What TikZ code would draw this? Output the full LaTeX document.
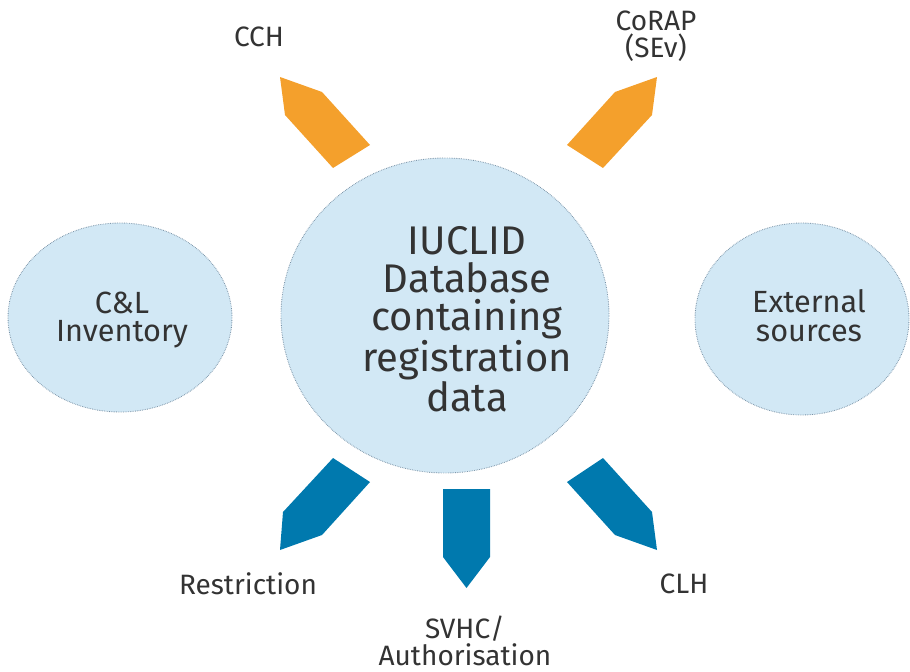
\documentclass[tikz,border=0pt]{standalone}
\usepackage{fontspec}
\setmainfont{Fira Sans}
\usetikzlibrary{shapes.geometric}

\tikzset{every picture/.style={line width=0.75pt}}
\tikzset{
  bubble/.style={ellipse, draw={rgb, 255:red, 120; green, 145; blue, 165 }, line width=0.65pt, dash pattern=on 0.5pt off 0.8pt, fill={rgb, 255:red, 210; green, 232; blue, 245 }, inner sep=0pt},
  orangearrow/.style={fill={rgb, 255:red, 244; green, 160; blue, 44 }},
  bluearrow/.style={fill={rgb, 255:red, 0; green, 121; blue, 174 }},
  outerlabel/.style={text={rgb, 255:red, 51; green, 51; blue, 51 }, align=center, inner sep=0pt, font=\fontsize{21}{20}\selectfont},
  sidelabel/.style={text={rgb, 255:red, 51; green, 51; blue, 51 }, align=center, inner sep=0.75pt, font=\fontsize{23}{21.5}\selectfont},
  mainlabel/.style={text={rgb, 255:red, 51; green, 51; blue, 51 }, align=center, inner sep=0.75pt, font=\fontsize{30}{28.5}\selectfont}
}

\begin{document}
\begin{tikzpicture}[x=0.75pt,y=0.75pt,yscale=-1,xscale=1]
\useasboundingbox (0,0) rectangle (910,671);

%Shape: Ellipse
\node [bubble, minimum width=168pt, minimum height=141.75pt] (clinv) at (120,317.5) {};
%Shape: Ellipse
\node [bubble, minimum width=160.5pt, minimum height=144pt] (extsrc) at (802,319) {};
%Shape: Ellipse
\node [bubble, minimum width=246pt, minimum height=236.25pt] (iuclid) at (445,315.5) {};

%Shape: Arrow (up left)
\draw [orangearrow, draw=none] (280,77) -- (322,92) -- (370,145) -- (333,168) -- (285,115) -- cycle ;
%Shape: Arrow (up right)
\draw [orangearrow, draw=none] (657,77) -- (615,92) -- (567,145) -- (603,168) -- (652,115) -- cycle ;
%Shape: Arrow (down left)
\draw [bluearrow, draw=none] (333,458) -- (370,482) -- (322,535) -- (280,550) -- (283,512) -- cycle ;
%Shape: Arrow (down)
\draw [bluearrow, draw=none] (443,489) -- (490,489) -- (490,557) -- (466.5,588) -- (443,557) -- cycle ;
%Shape: Arrow (down right)
\draw [bluearrow, draw=none] (603,458) -- (567,482) -- (615,535) -- (657,550) -- (652,512) -- cycle ;

% Text Node
\node [mainlabel] (iuclidtxt) at (467,319) {IUCLID\\Database\\containing\\registration\\data};
% Text Node
\node [sidelabel] (clinvtxt) at (122,320) {C\&L\\Inventory};
% Text Node
\node [sidelabel] (extsrctxt) at (809,316) {External\\sources};

% Text Node
\node [outerlabel] (cch) at (259,37) {CCH};
% Text Node
\node [outerlabel] (corap) at (656,36) {CoRAP\\(SEv)};
% Text Node
\node [outerlabel] (restr) at (248,584) {Restriction};
% Text Node
\node [outerlabel] (svhc) at (465,641) {SVHC/\\Authorisation};
% Text Node
\node [outerlabel] (clh) at (684,584) {CLH};

\end{tikzpicture}
\end{document}
